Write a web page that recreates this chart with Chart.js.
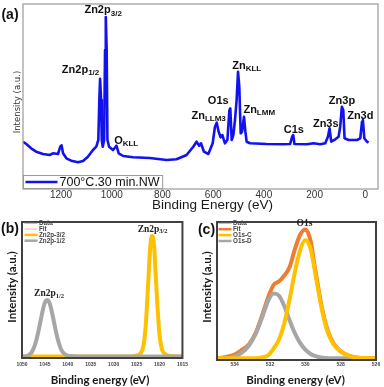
<!DOCTYPE html>
<html><head><meta charset="utf-8">
<script src="https://cdn.jsdelivr.net/npm/chart.js@4/dist/chart.umd.min.js"></script>
<style>
html,body{margin:0;padding:0;background:#fff;width:384px;height:387px;overflow:hidden;}
#wrap{position:relative;width:384px;height:387px;}
canvas{position:absolute;}
.t{position:absolute;white-space:nowrap;line-height:1;transform:translate(-50%,-50%);color:#1a1a1a;}
.r{transform:translate(-50%,-50%) rotate(-90deg);}
</style></head>
<body><div id="wrap">
<canvas id="cA" width="384" height="212" style="left:0;top:0"></canvas>
<canvas id="cB" width="192" height="175" style="left:0;top:212px"></canvas>
<canvas id="cC" width="192" height="175" style="left:192px;top:212px"></canvas>
<div class="t" style="left:10px;top:14px;font:bold 14px 'Liberation Sans',Arial;color:#111">(a)</div>
<div class="t" style="left:10px;top:227.5px;font:bold 14px 'Liberation Sans',Arial;color:#111">(b)</div>
<div class="t" style="left:206.5px;top:228.5px;font:bold 14px 'Liberation Sans',Arial;color:#111">(c)</div>
<div class="t r" style="left:15.5px;top:101.5px;font:9.5px 'Liberation Sans Narrow','DejaVu Sans Condensed',Arial;color:#333">Intensity (a.u.)</div>
<div class="t" style="left:212.5px;top:204px;font:13.5px 'Liberation Sans',Arial;">Binding Energy (eV)</div>
<div class="t r" style="left:11px;top:286.5px;font:bold 11.5px Lato,'Open Sans';">Intensity (a.u.)</div>
<div class="t r" style="left:206px;top:286.5px;font:bold 11.5px Lato,'Open Sans';">Intensity (a.u.)</div>
<div class="t" style="left:100px;top:379px;font:bold 11.5px Lato,'Open Sans';">Binding energy (eV)</div>
<div class="t" style="left:295.5px;top:379px;font:bold 11.5px Lato,'Open Sans';">Binding energy (eV)</div>
</div>
<script>
// ---------- (a) survey spectrum ----------
const SURVEY_E = [1350,1337,1318,1298,1271,1245,1232,1212,1203,1198,1192,1179,1160,1133,1113,1094,1074,1061,1053,1049,1046,1042,1039.5,1035.5,1030,1026.5,1023.5,1020,1017,1010.5,995,981.5,972.5,955,916,850,784,744.5,705,678.5,665.5,655,648,636.5,619,602,593,586,578.5,570.5,564,553.5,544,536,532.5,527,520.5,514,507.5,502,497,491.5,486,478.5,473,468,454.5,389,323,296.5,288.5,284.5,279.5,230.5,204,178,158,147.5,141,134.5,118.5,105.5,99,92.5,87,82,66,33,20,13,9.5,4,-6.5,-13];
const SURVEY_I = [47.3,45,40.7,37.3,35,34,35.7,35,42.3,43.7,35.7,30.7,28.3,26.7,28,32.3,39,42.3,49,89,110.3,89,49,42.3,49,139,172,139,49,42.3,39,43.3,35.7,33,31.7,31,29,29.7,34,42.3,47.3,43.3,45.7,37.3,35,45.7,62.3,66.3,57.3,51.7,54,45.7,49,79,80.7,49,54,69,89,117.3,102.3,55.7,57.3,72.3,57.3,47.3,45.7,45,44.7,45,52.3,54,45,44.7,45.7,44.7,45.7,52.3,60.7,47.3,49.7,52.3,62.3,82.3,79,50.7,49,49,50.7,67.3,69,50.7,47.3,46.3];
const SURVEY_LABEL = '700°C.30 min.NW';
const TICKS_A = [1200,1000,800,600,400,200,0];
// peak labels: [main, subscript, energy, intensity]
const PEAKS_A = [
  ['Zn2p','3/2',1034,178.7],['Zn2p','1/2',1123,119],['O','KLL',943,48],
  ['Zn','LLM3',618,73.3],['O1s','',580,87.7],['Zn','KLL',467.6,123.3],
  ['Zn','LMM',418.3,79.3],['C1s','',281.9,59.3],['Zn3s','',156,65],
  ['Zn3p','',92,88.3],['Zn3d','',19.8,73.3]
];

// ---------- (b) Zn2p ----------
const ENERGY_B = [1050,1049,1048,1047.5,1047,1046.5,1046,1045.5,1045,1044.5,1044,1043.5,1043,1042.5,1042,1041.5,1041,1040,1038,1036,1034,1032,1030,1028,1026,1025,1024.5,1024,1023.5,1023,1022.5,1022,1021.6,1021.2,1020.8,1020.4,1020,1019.5,1019,1018.5,1018,1017,1016,1015];
const DATA_B = [1.7,2.1,5.4,9.0,16.2,24.6,36.5,46.4,56.1,57.5,55.6,46.0,36.1,24.0,15.9,8.6,5.6,2.6,2.4,2.2,1.8,1.6,1.7,1.5,1.9,2.8,3.5,5.2,13.1,32.4,72.8,112.2,121.4,113.8,79.3,48.6,22.5,9.4,4.7,3.3,2.0,1.9,1.6,1.5];
const FIT_B = [1.5,1.9,5,9.3,15.8,25,36,47,55.5,58,55,46.5,35.5,24.5,15.5,9,5.2,2.3,1.6,1.5,1.5,1.5,1.5,1.5,1.6,2.5,3.2,5.5,12.5,33,72,113,122,113,80,48,23,9,5,3,2.2,1.7,1.5,1.5];
const ZN2P32_B = [1.5,1.5,1.5,1.5,1.5,1.5,1.5,1.5,1.5,1.5,1.5,1.5,1.5,1.5,1.5,1.5,1.5,1.5,1.5,1.5,1.5,1.5,1.5,1.5,1.6,2.5,3.2,5.5,12.5,33,72,113,122,113,80,48,23,9,5,3,2.2,1.7,1.5,1.5];
const ZN2P12_B = [1.5,1.9,5,9.3,15.8,25,36,47,55.5,58,55,46.5,35.5,24.5,15.5,9,5.2,2.3,1.6,1.5,1.5,1.5,1.5,1.5,1.5,1.5,1.5,1.5,1.5,1.5,1.5,1.5,1.5,1.5,1.5,1.5,1.5,1.5,1.5,1.5,1.5,1.5,1.5,1.5];
const TICKS_B = [1050,1045,1040,1035,1030,1025,1020,1015];
const PEAKS_B = [['Zn2p','3/2',1021.5,128.7],['Zn2p','1/2',1044.1,64]];

// ---------- (c) O1s ----------
const ENERGY_C = [535,534.5,534,533.6,533.2,532.8,532.4,532.1,531.8,531.5,531.2,530.9,530.6,530.3,530.0,529.7,529.5,529.3,529.1,528.9,528.7,528.4,528.0,527.5,527,526.5,526];
const DATA_C = [1.9,3.2,5.2,10.4,15.9,27.0,47.6,62.1,75.6,77.9,84.8,91.8,110.9,124.4,131.0,118.5,97.3,75.2,56.1,39.2,28.3,16.1,9.1,3.9,2.5,1.8,1.9];
const FIT_C = [1.7,3,5.5,10,15.5,27.5,47,62.8,75,78.4,84.2,92.4,110.3,125,130.5,119,96.8,75.8,55.6,39.7,27.8,16.5,8.8,4.1,2.3,2,1.7];
const O1SC_C = [1.7,1.7,1.7,1.7,1.7,1.8,2.8,4.8,11.3,20,36,60,87.2,109.5,120,111,93,72.8,54,38.1,26.2,15.7,8.4,3.8,2.3,2,1.7];
const O1SD_C = [1.7,2.1,3.5,7.4,14.3,26.7,44.8,59.5,66.5,64.5,54.3,40.2,27.1,17.1,10.3,6,4.3,3.2,2.4,2.1,1.8,1.7,1.7,1.7,1.7,1.7,1.7];
const TICKS_C = [534,532,530,528,526];
const PEAKS_C = [['O1s','',530.05,136]];

// ---------- helpers & plugins ----------
const pts = (xs, ys) => xs.map((x, i) => ({x, y: ys[i]}));

const framePlugin = {
  id: 'frame',
  afterDatasetsDraw(chart, args, o) {
    const {ctx, chartArea: a} = chart;
    ctx.save(); ctx.strokeStyle = o.color; ctx.lineWidth = o.width;
    ctx.strokeRect(a.left, a.top, a.right - a.left, a.bottom - a.top);
    ctx.restore();
  }
};
const peakPlugin = {
  id: 'peaks',
  afterDraw(chart, args, o) {
    const {ctx, scales: {x, y}} = chart;
    ctx.save(); ctx.fillStyle = o.color; ctx.textBaseline = 'middle'; ctx.textAlign = 'left';
    o.items.forEach(([main, sub, e, v]) => {
      const px = x.getPixelForValue(e), py = y.getPixelForValue(v);
      ctx.font = o.font; const w1 = ctx.measureText(main).width;
      ctx.font = o.subFont; const w2 = sub ? ctx.measureText(sub).width : 0;
      const x0 = px - (w1 + w2) / 2;
      ctx.font = o.font; ctx.fillText(main, x0, py);
      if (sub) { ctx.font = o.subFont; ctx.fillText(sub, x0 + w1, py + o.subDy); }
    });
    ctx.restore();
  }
};
const boxLegendPlugin = {
  id: 'boxLegend',
  afterDraw(chart, args, o) {
    const {ctx, chartArea: a} = chart;
    const ds = chart.data.datasets[0];
    ctx.save();
    ctx.font = o.font;
    const tw = ctx.measureText(ds.label).width;
    const left = a.left + 0.5, bottom = a.bottom - 0.5, h = o.height;
    const w = o.lineLen + 5 + tw + 2;
    ctx.fillStyle = '#fff'; ctx.fillRect(left, bottom - h, w, h);
    ctx.strokeStyle = o.boxColor; ctx.lineWidth = 1; ctx.strokeRect(left, bottom - h, w, h);
    const my = bottom - h / 2;
    ctx.strokeStyle = ds.borderColor; ctx.lineWidth = ds.borderWidth;
    ctx.beginPath(); ctx.moveTo(left + 2, my); ctx.lineTo(left + 2 + o.lineLen, my); ctx.stroke();
    ctx.fillStyle = o.color; ctx.textBaseline = 'middle';
    ctx.fillText(ds.label, left + 4 + o.lineLen, my + 0.5);
    ctx.restore();
  }
};
const miniLegendPlugin = {
  id: 'miniLegend',
  afterDraw(chart, args, o) {
    const {ctx, chartArea: a} = chart;
    ctx.save(); ctx.font = o.font; ctx.textBaseline = 'middle';
    chart.data.datasets.forEach((ds, i) => {
      const y = a.top + o.top + i * o.row, x = a.left + o.left;
      ctx.strokeStyle = ds.borderColor; ctx.lineWidth = Math.min(ds.borderWidth, 2.5);
      ctx.beginPath(); ctx.moveTo(x, y); ctx.lineTo(x + o.lineLen, y); ctx.stroke();
      ctx.fillStyle = o.color; ctx.fillText(ds.label, x + o.lineLen + 1.5, y + 0.3);
    });
    ctx.restore();
  }
};

Chart.defaults.font.family = "'Liberation Sans', Arial, sans-serif";
Chart.defaults.animation = false;
Chart.defaults.responsive = false;
Chart.defaults.devicePixelRatio = 1;

function xScale(min, max, ticks, font, color, pad, height) {
  return {
    type: 'linear', reverse: true, min, max,
    afterBuildTicks: s => { s.ticks = ticks.map(v => ({value: v})); },
    afterFit: s => { s.height = height; },
    grid: {display: false, drawTicks: false}, border: {display: false},
    ticks: {font, color, padding: pad, maxRotation: 0, autoSkip: false, callback: v => String(v)}
  };
}
const lineDs = (label, data, color, width, order) => ({
  label, data, borderColor: color, backgroundColor: color, borderWidth: width,
  pointRadius: 0, fill: false, order, cubicInterpolationMode: 'monotone'
});

// (a)
new Chart(document.getElementById('cA'), {
  type: 'line',
  data: {datasets: [{label: SURVEY_LABEL, data: pts(SURVEY_E, SURVEY_I), borderColor: '#1212ee', borderWidth: 2.6, pointRadius: 0, tension: 0, fill: false, borderJoinStyle: 'round'}]},
  options: {
    layout: {padding: {left: 23, right: 6, top: 4, bottom: 0}},
    plugins: {legend: {display: false}, tooltip: {enabled: false},
      frame: {color: '#9a9a9a', width: 1.2},
      peaks: {items: PEAKS_A, font: "bold 11px 'Liberation Sans', Arial", subFont: "bold 8px 'Liberation Sans', Arial", subDy: 3, color: '#111'},
      boxLegend: {font: "12.5px 'Liberation Sans', Arial", color: '#111', boxColor: '#9a9a9a', lineLen: 32, height: 13}
    },
    scales: {
      x: xScale(-50, 1350, TICKS_A, {size: 10}, '#333', 0, 23),
      y: {display: false, min: 0, max: 185}
    }
  },
  plugins: [framePlugin, peakPlugin, boxLegendPlugin]
});

// (b)
new Chart(document.getElementById('cB'), {
  type: 'line',
  data: {datasets: [
    lineDs('Data', pts(ENERGY_B, DATA_B), '#8fb4e3', 1, 4),
    lineDs('Fit', pts(ENERGY_B, FIT_B), '#f6c3a0', 1.2, 3),
    lineDs('Zn2p-3/2', pts(ENERGY_B, ZN2P32_B), '#ffc000', 4, 2),
    lineDs('Zn2p-1/2', pts(ENERGY_B, ZN2P12_B), '#a6a6a6', 4, 1)
  ]},
  options: {
    layout: {padding: {left: 22, right: 8, top: 10, bottom: 0}},
    plugins: {legend: {display: false}, tooltip: {enabled: false},
      frame: {color: '#404040', width: 2},
      peaks: {items: PEAKS_B, font: "bold 9.5px 'Liberation Serif', serif", subFont: "bold 6.5px 'Liberation Serif', serif", subDy: 2.5, color: '#222'},
      miniLegend: {font: "bold 6.3px 'Liberation Sans', Arial", color: '#444', left: 2.5, top: 1.3, row: 5.8, lineLen: 13}
    },
    scales: {
      x: xScale(1015, 1050, TICKS_B, {size: 5, weight: 'bold'}, '#444', 4, 29),
      y: {display: false, min: 0, max: 136}
    }
  },
  plugins: [framePlugin, peakPlugin, miniLegendPlugin]
});

// (c)
new Chart(document.getElementById('cC'), {
  type: 'line',
  data: {datasets: [
    lineDs('Data', pts(ENERGY_C, DATA_C), '#8fb4e3', 1, 4),
    lineDs('Fit', pts(ENERGY_C, FIT_C), '#ed7d31', 4, 3),
    lineDs('O1s-C', pts(ENERGY_C, O1SC_C), '#ffc000', 4, 1),
    lineDs('O1s-D', pts(ENERGY_C, O1SD_C), '#a6a6a6', 4, 2)
  ]},
  options: {
    layout: {padding: {left: 25, right: 8, top: 10, bottom: 0}},
    plugins: {legend: {display: false}, tooltip: {enabled: false},
      frame: {color: '#404040', width: 2},
      peaks: {items: PEAKS_C, font: "bold 9.5px 'Liberation Serif', serif", subFont: "bold 6.5px 'Liberation Serif', serif", subDy: 2.5, color: '#222'},
      miniLegend: {font: "bold 6.3px 'Liberation Sans', Arial", color: '#444', left: 1.5, top: 1.3, row: 5.9, lineLen: 13}
    },
    scales: {
      x: xScale(526, 535, TICKS_C, {size: 5, weight: 'bold'}, '#444', 2, 27),
      y: {display: false, min: 0, max: 138}
    }
  },
  plugins: [framePlugin, peakPlugin, miniLegendPlugin]
});
</script>
</body></html>
